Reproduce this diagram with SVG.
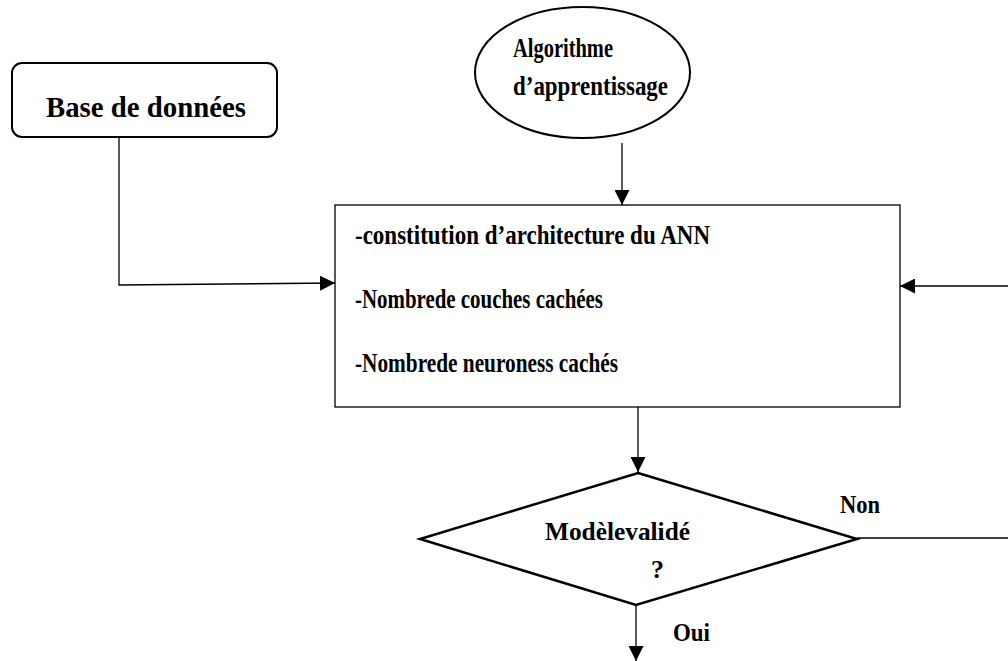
<svg xmlns="http://www.w3.org/2000/svg" width="1008" height="661" viewBox="0 0 1008 661">
  <style>
    .lbl { font-family: "Liberation Serif", "Times New Roman", serif; font-weight: bold; fill: #000; }
    .wire { fill: none; stroke: #000; stroke-width: 1.3; }
  </style>
  <defs>
    <marker id="arrow" markerUnits="userSpaceOnUse" markerWidth="16" markerHeight="15" refX="15" refY="7.5" orient="auto">
      <path d="M0,0 L15,7.5 L0,15 Z" fill="#000"/>
    </marker>
  </defs>
  <rect width="1008" height="661" fill="#fff"/>

  <g id="base-donnees">
    <rect x="12" y="63" width="265" height="74" rx="10" ry="10" fill="#fff" stroke="#000" stroke-width="2"/>
    <text class="lbl" x="46" y="117" font-size="30" textLength="200" lengthAdjust="spacingAndGlyphs">Base de données</text>
  </g>

  <g id="algorithme">
    <ellipse cx="582.5" cy="72.5" rx="107.5" ry="65.5" fill="#fff" stroke="#000" stroke-width="2"/>
    <text class="lbl" x="513" y="57" font-size="28" textLength="100" lengthAdjust="spacingAndGlyphs">Algorithme</text>
    <text class="lbl" x="513" y="95" font-size="28" textLength="155" lengthAdjust="spacingAndGlyphs">d’apprentissage</text>
  </g>

  <g id="architecture">
    <rect x="335" y="205" width="565" height="202" fill="#fff" stroke="#000" stroke-width="1.3"/>
    <text class="lbl" x="355" y="244" font-size="27" textLength="355" lengthAdjust="spacingAndGlyphs">-constitution d’architecture du ANN</text>
    <text class="lbl" x="355" y="308" font-size="27" textLength="248" lengthAdjust="spacingAndGlyphs">-Nombrede couches cachées</text>
    <text class="lbl" x="355" y="372" font-size="27" textLength="263" lengthAdjust="spacingAndGlyphs">-Nombrede neuroness cachés</text>
  </g>

  <g id="validation">
    <polygon points="638,473 857,539 636,605 420,539" fill="#fff" stroke="#000" stroke-width="2.5" stroke-linejoin="miter"/>
    <text class="lbl" x="545" y="540" font-size="26" textLength="145" lengthAdjust="spacingAndGlyphs">Modèlevalidé</text>
    <text class="lbl" x="651" y="578" font-size="26">?</text>
  </g>

  <g id="connectors">
    <polyline class="wire" points="119,137 119,285 335,283" marker-end="url(#arrow)"/>
    <line class="wire" x1="622" y1="143" x2="622" y2="205" marker-end="url(#arrow)"/>
    <line class="wire" x1="1008" y1="286" x2="900" y2="286" marker-end="url(#arrow)"/>
    <line class="wire" x1="638" y1="407" x2="638" y2="472" marker-end="url(#arrow)"/>
    <line class="wire" x1="857" y1="538" x2="1008" y2="538"/>
    <line class="wire" x1="636" y1="605" x2="636" y2="661" marker-end="url(#arrow)"/>
    <text class="lbl" x="840" y="513" font-size="26" textLength="40" lengthAdjust="spacingAndGlyphs">Non</text>
    <text class="lbl" x="673" y="641" font-size="26" textLength="37" lengthAdjust="spacingAndGlyphs">Oui</text>
  </g>
</svg>
